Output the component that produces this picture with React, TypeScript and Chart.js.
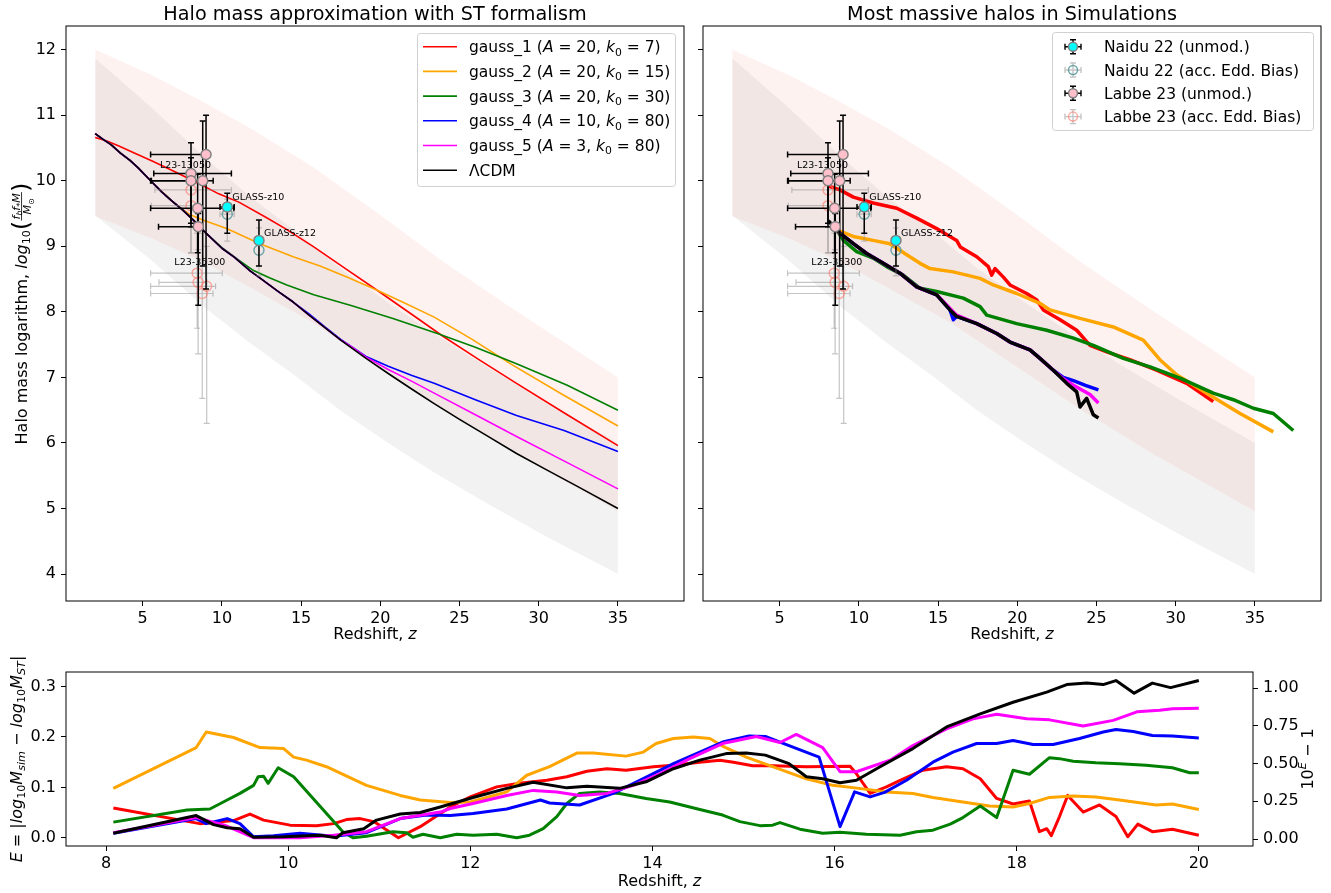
import React, { useEffect, useRef } from "react";
import { Chart, registerables } from "chart.js";
Chart.register(...registerables);

const FONT = "'DejaVu Sans', 'Liberation Sans', sans-serif";

/* ---------------- axes ---------------- */
const topXTicks = [5, 10, 15, 20, 25, 30, 35];
const topYTicks = [4, 5, 6, 7, 8, 9, 10, 11, 12];
const botXTicks = [8, 10, 12, 14, 16, 18, 20];
const botYTicks = [0, 0.1, 0.2, 0.3];
const botY2Ticks = [0, 0.25, 0.5, 0.75, 1.0];

/* ---------------- shaded bands (top panels) ---------------- */
const pinkBandZ = [2, 5.6, 8.6, 11.8, 15.8, 19.8, 24.0, 28.6, 35];
const pinkBandUpper = [12.0, 11.61, 11.23, 10.8, 10.2, 9.51, 8.76, 8.01, 7.0];
const pinkBandLower = [9.46, 9.12, 8.79, 8.37, 7.83, 7.19, 6.51, 5.83, 4.96];
const grayBandZ = [2, 5.5, 9.0, 11.8, 14.5, 17.5, 20.5, 23.4, 26.8, 30.5, 35];
const grayBandUpper = [11.87, 11.13, 10.34, 9.75, 9.26, 8.66, 8.14, 7.67, 7.15, 6.62, 6.0];
const grayBandLower = [9.47, 8.8, 8.05, 7.52, 7.05, 6.49, 6.0, 5.55, 5.07, 4.57, 4.0];

/* ---------------- ST formalism (top-left) ---------------- */
const lcdmZ = [2.0, 2.5, 3.0, 3.6, 4.2, 4.7, 5.5, 6.2, 6.8, 7.5, 8.2, 9.0, 10.0, 10.8, 11.8, 12.5, 13.5, 14.5, 15.5, 16.5, 17.5, 19.1, 20.5, 22.0, 23.4, 25.0, 26.8, 28.6, 30.5, 32.5, 35.0];
const lcdmM = [10.72, 10.63, 10.55, 10.42, 10.31, 10.2, 10.0, 9.83, 9.7, 9.56, 9.4, 9.2, 8.97, 8.83, 8.62, 8.5, 8.32, 8.15, 7.95, 7.76, 7.57, 7.29, 7.06, 6.82, 6.6, 6.36, 6.1, 5.84, 5.59, 5.33, 5.0];
const gauss1Z = [2.0, 2.7, 3.5, 4.4, 5.6, 7.1, 8.6, 9.8, 11.1, 12.8, 14.0, 15.8, 17.8, 19.8, 22.0, 24.0, 26.3, 28.6, 31.8, 35.0];
const gauss1M = [10.66, 10.61, 10.53, 10.43, 10.3, 10.13, 9.95, 9.8, 9.67, 9.44, 9.27, 8.99, 8.66, 8.33, 7.96, 7.62, 7.26, 6.91, 6.43, 5.96];
const gauss2Z = [2.0, 2.5, 3.0, 3.6, 4.2, 4.7, 5.5, 6.2, 7.0, 8.0, 8.8, 10.3, 12.4, 14.5, 16.2, 18.0, 19.8, 21.5, 23.4, 25.8, 28.2, 31.5, 35.0];
const gauss2M = [10.72, 10.63, 10.55, 10.42, 10.31, 10.2, 10.0, 9.84, 9.66, 9.48, 9.4, 9.27, 9.04, 8.84, 8.7, 8.52, 8.33, 8.14, 7.92, 7.58, 7.21, 6.74, 6.26];
const gauss3Z = [2.0, 2.5, 3.0, 3.6, 4.2, 4.7, 5.5, 6.2, 6.8, 7.5, 8.2, 9.0, 10.0, 11.0, 12.0, 13.0, 14.1, 15.8, 18.1, 20.8, 23.6, 26.0, 28.6, 31.8, 35.0];
const gauss3M = [10.72, 10.63, 10.55, 10.42, 10.31, 10.2, 10.0, 9.83, 9.7, 9.56, 9.4, 9.2, 8.98, 8.8, 8.63, 8.52, 8.41, 8.26, 8.1, 7.9, 7.67, 7.46, 7.21, 6.88, 6.5];
const gauss4Z = [2.0, 2.5, 3.0, 3.6, 4.2, 4.7, 5.5, 6.2, 6.8, 7.5, 8.2, 9.0, 10.0, 10.8, 11.8, 12.5, 13.5, 14.5, 15.5, 16.5, 17.5, 18.3, 19.1, 20.5, 22.0, 23.4, 26.0, 28.6, 31.6, 35.0];
const gauss4M = [10.72, 10.63, 10.55, 10.42, 10.31, 10.2, 10.0, 9.83, 9.7, 9.56, 9.4, 9.2, 8.97, 8.83, 8.62, 8.5, 8.32, 8.15, 7.97, 7.77, 7.58, 7.45, 7.32, 7.17, 7.03, 6.91, 6.66, 6.42, 6.19, 5.87];
const gauss5Z = [2.0, 2.5, 3.0, 3.6, 4.2, 4.7, 5.5, 6.2, 6.8, 7.5, 8.2, 9.0, 10.0, 10.8, 11.8, 12.5, 13.5, 14.5, 15.5, 16.5, 17.5, 18.1, 19.1, 20.5, 22.0, 23.4, 26.0, 28.6, 31.8, 35.0];
const gauss5M = [10.72, 10.63, 10.55, 10.42, 10.31, 10.2, 10.0, 9.83, 9.7, 9.56, 9.4, 9.2, 8.97, 8.83, 8.62, 8.5, 8.32, 8.15, 7.95, 7.76, 7.57, 7.48, 7.31, 7.12, 6.94, 6.76, 6.43, 6.1, 5.7, 5.3];

const legendNums = ["1", "2", "3", "4", "5"];
const legendA = ["20", "20", "20", "10", "3"];
const legendK = ["7", "15", "30", "80", "80"];

/* ---------------- simulations (top-right) ---------------- */
const simRedZ = [8.07, 8.8, 9.65, 10.9, 12.39, 13.65, 14.91, 16.17, 16.4, 17.44, 18.17, 18.38, 18.59, 19.12, 19.54, 20.59, 21.23, 21.64, 22.7, 23.75, 24.59, 25.64, 27.1, 28.79, 30.69, 32.37];
const simRedM = [9.92, 9.86, 9.75, 9.66, 9.58, 9.43, 9.27, 9.09, 8.99, 8.84, 8.69, 8.56, 8.66, 8.53, 8.41, 8.28, 8.18, 8.03, 7.88, 7.72, 7.49, 7.39, 7.27, 7.11, 6.91, 6.63];
const simOrangeZ = [8.6, 9.65, 10.9, 11.96, 13.02, 13.86, 14.49, 15.96, 17.65, 18.49, 19.96, 21.43, 22.06, 23.96, 26.06, 27.95, 29.0, 30.06, 31.96, 34.06, 36.16];
const simOrangeM = [9.25, 9.15, 9.09, 9.04, 8.87, 8.74, 8.66, 8.61, 8.51, 8.41, 8.28, 8.13, 8.03, 7.9, 7.77, 7.57, 7.27, 7.04, 6.76, 6.45, 6.17];
const simGreenZ = [8.6, 9.02, 9.86, 10.9, 11.75, 12.8, 13.86, 14.91, 16.59, 17.65, 18.07, 19.96, 21.86, 23.54, 24.8, 26.69, 28.38, 30.27, 32.37, 33.64, 34.9, 36.16, 37.42];
const simGreenM = [9.25, 9.09, 8.92, 8.82, 8.69, 8.56, 8.36, 8.31, 8.21, 8.08, 7.95, 7.82, 7.72, 7.6, 7.49, 7.29, 7.16, 6.99, 6.76, 6.66, 6.53, 6.45, 6.19];
const simBlackZ = [8.07, 8.8, 9.65, 10.49, 11.54, 12.59, 13.65, 14.91, 15.75, 16.17, 17.44, 18.7, 19.54, 20.8, 21.43, 22.27, 23.12, 23.75, 23.96, 24.38, 24.8, 25.12];
const simBlackM = [9.39, 9.2, 9.04, 8.89, 8.74, 8.59, 8.38, 8.26, 8.03, 7.93, 7.82, 7.67, 7.54, 7.42, 7.29, 7.11, 6.91, 6.78, 6.55, 6.68, 6.43, 6.38];
const simBlueZ = [8.3, 8.8, 9.65, 10.49, 11.54, 12.59, 13.65, 14.91, 15.75, 15.96, 16.17, 17.44, 18.7, 19.54, 20.8, 21.43, 22.27, 22.9, 23.54, 24.3, 25.12];
const simBlueM = [9.33, 9.2, 9.04, 8.89, 8.74, 8.59, 8.38, 8.26, 8.03, 7.88, 7.93, 7.82, 7.67, 7.54, 7.42, 7.29, 7.11, 7.0, 6.95, 6.88, 6.81];
const simMagentaZ = [8.3, 8.8, 9.65, 10.49, 11.54, 12.59, 13.65, 14.91, 15.75, 16.17, 17.44, 18.7, 19.54, 20.8, 21.43, 22.27, 22.9, 23.54, 24.59, 25.12];
const simMagentaM = [9.33, 9.2, 9.04, 8.89, 8.74, 8.59, 8.38, 8.26, 8.05, 7.95, 7.82, 7.67, 7.54, 7.42, 7.29, 7.11, 6.98, 6.88, 6.74, 6.61];

/* ---------------- observations ---------------- */
const naiduZ = [10.34, 12.34];
const naiduM = [9.6, 9.09];
const naiduZLo = [9.88, 12.34];
const naiduZHi = [10.78, 12.34];
const naiduMLo = [9.2, 8.7];
const naiduMHi = [9.81, 9.4];
const naiduAccM = [9.49, 8.94];
const naiduAccMLo = [9.08, 8.55];
const naiduAccMHi = [9.72, 9.28];

const labbeZ = [9.0, 8.05, 8.05, 8.79, 8.47, 8.51];
const labbeM = [10.4, 10.11, 10.0, 10.0, 9.58, 9.3];
const labbeZLo = [5.5, 5.7, 5.55, 5.5, 5.5, 6.0];
const labbeZHi = [9.2, 10.6, 8.3, 9.45, 10.75, 8.6];
const labbeMLo = [8.35, 9.35, 9.3, 8.7, 8.9, 8.1];
const labbeMHi = [11.0, 10.58, 10.35, 10.91, 10.1, 9.5];

const labbeAccZ = [8.05, 8.05, 8.44, 8.5, 9.04, 8.76];
const labbeAccM = [9.86, 9.62, 8.59, 8.45, 8.39, 8.28];
const labbeAccZLo = [5.77, 5.55, 5.5, 6.03, 5.5, 5.5];
const labbeAccZHi = [10.6, 8.3, 10.03, 9.04, 9.6, 9.44];
const labbeAccMLo = [8.9, 8.9, 7.75, 7.36, 6.3, 6.68];
const labbeAccMHi = [10.35, 10.1, 9.2, 8.95, 9.0, 9.2];

const annText = ["L23-13050", "GLASS-z10", "GLASS-z12", "L23-35300"];
const annZ = [6.09, 10.66, 12.66, 7.0];
const annM = [10.23, 9.74, 9.2, 8.75];

/* ---------------- bottom panel: E(z) ---------------- */
const botRedZ = [8.08, 9.03, 9.4, 9.58, 9.73, 10.02, 10.31, 10.5, 10.64, 10.79, 10.94, 11.21, 11.45, 11.78, 12.0, 12.29, 12.54, 12.84, 13.06, 13.28, 13.5, 13.71, 14.01, 14.23, 14.52, 14.74, 14.89, 15.1, 15.32, 15.69, 16.17, 16.24, 16.39, 16.57, 16.72, 16.97, 17.23, 17.41, 17.6, 17.78, 17.96, 18.14, 18.25, 18.33, 18.38, 18.47, 18.56, 18.73, 18.91, 19.09, 19.22, 19.33, 19.49, 19.71, 20.0];
const botRedE = [0.059, 0.028, 0.034, 0.047, 0.035, 0.025, 0.024, 0.028, 0.036, 0.038, 0.032, 0.0, 0.022, 0.061, 0.081, 0.101, 0.108, 0.114, 0.121, 0.132, 0.137, 0.134, 0.141, 0.144, 0.15, 0.154, 0.15, 0.143, 0.143, 0.141, 0.142, 0.127, 0.088, 0.101, 0.114, 0.134, 0.141, 0.137, 0.117, 0.078, 0.067, 0.073, 0.012, 0.018, 0.004, 0.042, 0.084, 0.051, 0.065, 0.042, 0.002, 0.027, 0.012, 0.017, 0.005];
const botOrangeZ = [8.08, 8.99, 9.1, 9.4, 9.69, 9.95, 10.06, 10.2, 10.42, 10.86, 11.23, 11.45, 11.78, 12.0, 12.4, 12.62, 12.87, 13.17, 13.35, 13.71, 13.9, 14.04, 14.23, 14.45, 14.63, 14.77, 15.03, 15.32, 15.69, 15.98, 16.27, 16.57, 16.86, 17.08, 17.41, 17.7, 17.96, 18.14, 18.36, 18.62, 18.87, 19.13, 19.53, 19.71, 20.0];
const botOrangeE = [0.098, 0.179, 0.21, 0.199, 0.179, 0.177, 0.16, 0.154, 0.141, 0.104, 0.084, 0.075, 0.07, 0.071, 0.091, 0.124, 0.141, 0.168, 0.168, 0.162, 0.17, 0.187, 0.197, 0.2, 0.197, 0.182, 0.16, 0.141, 0.117, 0.104, 0.098, 0.091, 0.088, 0.08, 0.071, 0.063, 0.061, 0.068, 0.08, 0.083, 0.081, 0.075, 0.065, 0.067, 0.056];
const botGreenZ = [8.08, 8.89, 9.14, 9.33, 9.47, 9.62, 9.67, 9.73, 9.78, 9.89, 10.06, 10.6, 10.71, 10.86, 11.15, 11.3, 11.37, 11.48, 11.67, 11.85, 12.03, 12.29, 12.51, 12.65, 12.8, 12.95, 13.06, 13.2, 13.42, 13.64, 13.93, 14.19, 14.52, 14.77, 14.96, 15.18, 15.32, 15.4, 15.62, 15.87, 16.06, 16.35, 16.72, 16.9, 17.08, 17.27, 17.41, 17.6, 17.78, 17.96, 18.14, 18.36, 18.47, 18.62, 18.87, 19.13, 19.42, 19.71, 19.9, 20.0];
const botGreenE = [0.031, 0.055, 0.057, 0.075, 0.088, 0.104, 0.121, 0.122, 0.108, 0.139, 0.121, 0.012, 0.0, 0.003, 0.012, 0.01, 0.001, 0.007, 0.0, 0.007, 0.005, 0.007, 0.0, 0.005, 0.018, 0.042, 0.068, 0.088, 0.091, 0.088, 0.078, 0.071, 0.056, 0.045, 0.032, 0.024, 0.025, 0.03, 0.017, 0.009, 0.011, 0.007, 0.005, 0.012, 0.015, 0.027, 0.04, 0.063, 0.04, 0.134, 0.126, 0.159, 0.157, 0.152, 0.149, 0.147, 0.144, 0.139, 0.129, 0.129];
const botBlueZ = [8.08, 8.99, 9.1, 9.33, 9.47, 9.62, 9.84, 10.13, 10.5, 10.86, 11.23, 11.52, 11.78, 12.03, 12.4, 12.77, 12.87, 13.2, 13.57, 13.86, 14.23, 14.52, 14.77, 15.06, 15.24, 15.5, 15.83, 16.06, 16.22, 16.39, 16.55, 16.79, 17.08, 17.3, 17.56, 17.78, 17.96, 18.18, 18.4, 18.69, 18.95, 19.09, 19.28, 19.49, 19.71, 20.0];
const botBlueE = [0.009, 0.038, 0.028, 0.038, 0.028, 0.002, 0.004, 0.009, 0.003, 0.01, 0.038, 0.045, 0.044, 0.048, 0.057, 0.075, 0.069, 0.065, 0.088, 0.114, 0.147, 0.17, 0.19, 0.202, 0.201, 0.183, 0.16, 0.022, 0.091, 0.081, 0.09, 0.114, 0.15, 0.17, 0.187, 0.187, 0.193, 0.185, 0.185, 0.197, 0.21, 0.215, 0.211, 0.203, 0.202, 0.198];
const botMagentaZ = [8.08, 8.99, 9.3, 9.62, 10.13, 10.5, 10.86, 11.23, 11.67, 11.78, 12.03, 12.4, 12.69, 12.95, 13.2, 13.5, 13.79, 14.08, 14.41, 14.77, 15.14, 15.4, 15.58, 15.87, 16.06, 16.24, 16.61, 16.86, 17.23, 17.52, 17.78, 18.11, 18.36, 18.73, 19.06, 19.32, 19.57, 19.71, 20.0];
const botMagentaE = [0.01, 0.04, 0.025, 0.0, 0.0, 0.005, 0.012, 0.038, 0.051, 0.058, 0.068, 0.084, 0.094, 0.091, 0.084, 0.088, 0.104, 0.127, 0.157, 0.187, 0.201, 0.189, 0.205, 0.179, 0.131, 0.131, 0.154, 0.183, 0.216, 0.236, 0.245, 0.236, 0.234, 0.222, 0.233, 0.25, 0.253, 0.256, 0.257];
const botBlackZ = [8.08, 8.99, 9.18, 9.33, 9.47, 9.62, 9.95, 10.35, 10.53, 10.6, 10.83, 10.97, 11.23, 11.45, 11.67, 12.03, 12.4, 12.69, 13.06, 13.28, 13.64, 13.93, 14.23, 14.52, 14.81, 15.03, 15.24, 15.5, 15.69, 15.87, 16.06, 16.24, 16.5, 16.86, 17.23, 17.6, 17.96, 18.33, 18.55, 18.77, 18.95, 19.09, 19.29, 19.49, 19.69, 20.0];
const botBlackE = [0.009, 0.044, 0.026, 0.02, 0.018, 0.001, 0.002, 0.005, 0.0, 0.01, 0.018, 0.035, 0.047, 0.05, 0.061, 0.08, 0.098, 0.11, 0.099, 0.102, 0.098, 0.111, 0.137, 0.154, 0.167, 0.168, 0.164, 0.147, 0.121, 0.117, 0.109, 0.114, 0.141, 0.177, 0.22, 0.246, 0.269, 0.289, 0.304, 0.307, 0.304, 0.312, 0.287, 0.307, 0.298, 0.312];

/* ---------------- styles ---------------- */
const RED = "#ff0000", ORANGE = "#ffa500", GREEN = "#008000", BLUE = "#0000ff", MAGENTA = "#ff00ff", BLACK = "#000000";
const legendColors = [RED, ORANGE, GREEN, BLUE, MAGENTA, BLACK];
const CYAN_FILL = "#00ffff", PINK_FILL = "#ffc0cb", EDGE = "#808080";
const TEAL_EDGE = "rgba(95,158,160,0.9)", SALMON_EDGE = "rgba(250,128,114,0.65)";
const BAR_DARK = "#000000", BAR_LIGHT = "rgba(140,140,140,0.5)";

const pts = (xs: number[], ys: number[]) => xs.map((x, i) => ({ x, y: ys[i] }));

/* ---------------- rich text ---------------- */
type Seg = { t?: string; it?: boolean; sub?: boolean; sup?: boolean; scale?: number; frac?: { num: Seg[]; den: Seg[] } };

function segFont(s: Seg, size: number) {
  const sz = size * (s.sub || s.sup ? 0.7 : 1) * (s.scale || 1);
  return `${s.it ? "italic " : ""}${sz}px ${FONT}`;
}
function measureSegs(ctx: CanvasRenderingContext2D, segs: Seg[], size: number): number {
  let w = 0;
  for (const s of segs) {
    if (s.frac) {
      const fs = size * 0.7;
      w += Math.max(measureSegs(ctx, s.frac.num, fs), measureSegs(ctx, s.frac.den, fs)) + 3;
    } else {
      ctx.font = segFont(s, size);
      w += ctx.measureText(s.t || "").width;
    }
  }
  return w;
}
function drawSegs(ctx: CanvasRenderingContext2D, segs: Seg[], x: number, y: number, size: number) {
  let cx = x;
  for (const s of segs) {
    if (s.frac) {
      const fs = size * 0.7;
      const wn = measureSegs(ctx, s.frac.num, fs);
      const wd = measureSegs(ctx, s.frac.den, fs);
      const w = Math.max(wn, wd) + 3;
      const barY = y - size * 0.32;
      drawSegs(ctx, s.frac.num, cx + (w - wn) / 2, barY - 2, fs);
      drawSegs(ctx, s.frac.den, cx + (w - wd) / 2, barY + fs * 0.78 + 1, fs);
      ctx.fillRect(cx + 0.5, barY - 0.4, w - 1, 0.8);
      cx += w;
    } else {
      ctx.font = segFont(s, size);
      let dy = 0;
      if (s.sub) dy = size * 0.22;
      if (s.sup) dy = -size * 0.42;
      if (s.scale) dy += size * (s.scale - 1) * 0.3;
      ctx.fillText(s.t || "", cx, y + dy);
      cx += ctx.measureText(s.t || "").width;
    }
  }
}
function drawRich(ctx: CanvasRenderingContext2D, segs: Seg[], x: number, y: number, size: number, align: string, rot = 0) {
  ctx.save();
  ctx.fillStyle = "#000";
  ctx.textAlign = "left";
  ctx.textBaseline = "alphabetic";
  ctx.translate(x, y);
  if (rot) ctx.rotate(rot);
  const w = measureSegs(ctx, segs, size);
  const sx = align === "center" ? -w / 2 : align === "right" ? -w : 0;
  drawSegs(ctx, segs, sx, size * 0.36, size);
  ctx.restore();
}

/* ---------------- plugins ---------------- */
const errorBarPlugin = {
  id: "errbars",
  beforeDatasetDraw(chart: any, args: any) {
    const ds = chart.data.datasets[args.index];
    const eb = ds && ds.errorBars;
    if (!eb) return;
    const xs = chart.scales.x, ys = chart.scales.y;
    const ctx = chart.ctx as CanvasRenderingContext2D;
    const a = chart.chartArea;
    ctx.save();
    ctx.beginPath();
    ctx.rect(a.left, a.top, a.right - a.left, a.bottom - a.top);
    ctx.clip();
    ctx.strokeStyle = eb.color;
    ctx.lineWidth = eb.width;
    const cap = 3;
    ds.data.forEach((p: any, i: number) => {
      const px = xs.getPixelForValue(p.x), py = ys.getPixelForValue(p.y);
      const x1 = xs.getPixelForValue(eb.xLo[i]), x2 = xs.getPixelForValue(eb.xHi[i]);
      const y1 = ys.getPixelForValue(eb.yLo[i]), y2 = ys.getPixelForValue(eb.yHi[i]);
      ctx.beginPath();
      if (Math.abs(x2 - x1) > 0.5) {
        ctx.moveTo(x1, py); ctx.lineTo(x2, py);
        ctx.moveTo(x1, py - cap); ctx.lineTo(x1, py + cap);
        ctx.moveTo(x2, py - cap); ctx.lineTo(x2, py + cap);
      }
      ctx.moveTo(px, y1); ctx.lineTo(px, y2);
      ctx.moveTo(px - cap, y1); ctx.lineTo(px + cap, y1);
      ctx.moveTo(px - cap, y2); ctx.lineTo(px + cap, y2);
      ctx.stroke();
    });
    ctx.restore();
  },
};

function drawFrame(chart: any) {
  const ctx = chart.ctx as CanvasRenderingContext2D;
  const a = chart.chartArea;
  ctx.save();
  ctx.strokeStyle = "#000";
  ctx.lineWidth = 1;
  ctx.strokeRect(a.left, a.top, a.right - a.left, a.bottom - a.top);
  ctx.restore();
}

function drawAnnotations(chart: any) {
  const ctx = chart.ctx as CanvasRenderingContext2D;
  const xs = chart.scales.x, ys = chart.scales.y;
  ctx.save();
  ctx.fillStyle = "#000";
  ctx.font = `9.5px ${FONT}`;
  ctx.textAlign = "left";
  ctx.textBaseline = "middle";
  annText.forEach((t, i) => ctx.fillText(t, xs.getPixelForValue(annZ[i]), ys.getPixelForValue(annM[i])));
  ctx.restore();
}

function legendBox(ctx: CanvasRenderingContext2D, x: number, y: number, w: number, h: number) {
  ctx.save();
  ctx.beginPath();
  (ctx as any).roundRect(x, y, w, h, 3);
  ctx.fillStyle = "rgba(255,255,255,0.8)";
  ctx.fill();
  ctx.strokeStyle = "#d0d0d0";
  ctx.lineWidth = 1;
  ctx.stroke();
  ctx.restore();
}

const xLabelSegs: Seg[] = [{ t: "Redshift, " }, { t: "z", it: true }];
const yLabelTopSegs: Seg[] = [
  { t: "Halo mass logarithm, " },
  { t: "log", it: true },
  { t: "10", sub: true },
  { t: "(", scale: 1.45 },
  { frac: { num: [{ t: "f", it: true }, { t: "b", it: true, sub: true }, { t: "f", it: true }, { t: "*", sub: true }, { t: "M", it: true }], den: [{ t: "M", it: true }, { t: "⊙", sub: true }] } },
  { t: ")", scale: 1.45 },
];
const yLabelBotSegs: Seg[] = [
  { t: "E", it: true }, { t: " = |" }, { t: "log", it: true }, { t: "10", sub: true }, { t: "M", it: true }, { t: "sim", it: true, sub: true },
  { t: " − " }, { t: "log", it: true }, { t: "10", sub: true }, { t: "M", it: true }, { t: "ST", it: true, sub: true }, { t: "|" },
];
const y2LabelSegs: Seg[] = [{ t: "10" }, { t: "E", it: true, sup: true }, { t: " − 1" }];

const gaussSegs = (i: number): Seg[] => [
  { t: `gauss_${legendNums[i]} (` }, { t: "A", it: true }, { t: ` = ${legendA[i]}, ` }, { t: "k", it: true }, { t: "0", sub: true }, { t: ` = ${legendK[i]})` },
];

const obsLegend = [
  { label: "Naidu 22 (unmod.)", fill: CYAN_FILL, edge: EDGE, bar: BAR_DARK },
  { label: "Naidu 22 (acc. Edd. Bias)", fill: "rgba(0,0,0,0)", edge: TEAL_EDGE, bar: BAR_LIGHT },
  { label: "Labbe 23 (unmod.)", fill: PINK_FILL, edge: EDGE, bar: BAR_DARK },
  { label: "Labbe 23 (acc. Edd. Bias)", fill: "rgba(0,0,0,0)", edge: SALMON_EDGE, bar: BAR_LIGHT },
];

function drawTopLeft(chart: any) {
  const ctx = chart.ctx as CanvasRenderingContext2D;
  drawAnnotations(chart);
  legendBox(ctx, 417.5, 33.5, 258, 153);
  for (let i = 0; i < 6; i++) {
    const y = 46.7 + i * 24.7;
    ctx.save();
    ctx.strokeStyle = legendColors[i];
    ctx.lineWidth = 1.6;
    ctx.beginPath(); ctx.moveTo(423, y); ctx.lineTo(457, y); ctx.stroke();
    ctx.restore();
    drawRich(ctx, i < 5 ? gaussSegs(i) : [{ t: "ΛCDM" }], 469, y, 15.5, "left");
  }
  drawRich(ctx, [{ t: "Halo mass approximation with ST formalism" }], 375, 13, 19.2, "center");
  drawRich(ctx, xLabelSegs, 375, 633, 16, "center");
  drawRich(ctx, yLabelTopSegs, 21, 313.5, 16, "center", -Math.PI / 2);
  drawFrame(chart);
}

function drawTopRight(chart: any) {
  const ctx = chart.ctx as CanvasRenderingContext2D;
  drawAnnotations(chart);
  legendBox(ctx, 1052.5, 32.5, 261, 98);
  obsLegend.forEach((e, i) => {
    const y = 46.7 + i * 23.3, x = 1073;
    ctx.save();
    ctx.strokeStyle = e.bar;
    ctx.lineWidth = 1.4;
    ctx.beginPath();
    ctx.moveTo(x - 8, y); ctx.lineTo(x + 8, y);
    ctx.moveTo(x - 8, y - 3); ctx.lineTo(x - 8, y + 3);
    ctx.moveTo(x + 8, y - 3); ctx.lineTo(x + 8, y + 3);
    ctx.moveTo(x, y - 7); ctx.lineTo(x, y + 7);
    ctx.moveTo(x - 3, y - 7); ctx.lineTo(x + 3, y - 7);
    ctx.moveTo(x - 3, y + 7); ctx.lineTo(x + 3, y + 7);
    ctx.stroke();
    ctx.beginPath();
    ctx.arc(x, y, 4.5, 0, Math.PI * 2);
    ctx.fillStyle = e.fill; ctx.fill();
    ctx.strokeStyle = e.edge; ctx.lineWidth = 1.5; ctx.stroke();
    ctx.restore();
    drawRich(ctx, [{ t: e.label }], 1104, y, 15.5, "left");
  });
  drawRich(ctx, [{ t: "Most massive halos in Simulations" }], 1012, 13, 19.2, "center");
  drawRich(ctx, xLabelSegs, 1012, 633, 16, "center");
  drawFrame(chart);
}

function drawBottom(chart: any) {
  const ctx = chart.ctx as CanvasRenderingContext2D;
  drawRich(ctx, xLabelSegs, 659.5, 880, 16, "center");
  drawRich(ctx, yLabelBotSegs, 16, 759, 16, "center", -Math.PI / 2);
  drawRich(ctx, y2LabelSegs, 1307, 759, 16, "center", -Math.PI / 2);
  drawFrame(chart);
}

/* ---------------- scales ---------------- */
function makeAxis(ticks: number[], labels: string[], min: number, max: number, horizontal: boolean, size: number, showLabels = true, position?: string) {
  const ax: any = {
    type: "linear",
    min,
    max,
    afterBuildTicks: (s: any) => { s.ticks = ticks.map((v) => ({ value: v })); },
    afterFit: (s: any) => { if (horizontal) s.height = size; else s.width = size; },
    ticks: {
      display: showLabels,
      color: "#000",
      font: { family: FONT, size: 16 },
      padding: horizontal ? 3 : 5,
      autoSkip: false,
      maxRotation: 0,
      minRotation: 0,
      callback: (_v: any, i: number) => labels[i],
    },
    grid: { display: true, drawOnChartArea: false, drawTicks: true, tickLength: 5, tickColor: "#000", tickWidth: 1 },
    border: { display: false },
  };
  if (position) ax.position = position;
  return ax;
}

const topXLabels = topXTicks.map(String);
const topYLabels = topYTicks.map(String);
const botXLabels = botXTicks.map(String);
const botYLabels = botYTicks.map((v) => v.toFixed(1));
const botY2Labels = botY2Ticks.map((v) => v.toFixed(2));

/* ---------------- datasets ---------------- */
const lineDs = (xs: number[], ys: number[], color: string, width: number) => ({
  data: pts(xs, ys), showLine: true, borderColor: color, borderWidth: width, pointRadius: 0, pointHoverRadius: 0,
  fill: false, tension: 0, borderJoinStyle: "round", borderCapStyle: "butt",
});

const bandDs = (xs: number[], up: number[], lo: number[], color: string) => [
  { data: pts(xs, up), showLine: true, borderWidth: 0, borderColor: "rgba(0,0,0,0)", pointRadius: 0, fill: "+1", backgroundColor: color, tension: 0 },
  { data: pts(xs, lo), showLine: true, borderWidth: 0, borderColor: "rgba(0,0,0,0)", pointRadius: 0, fill: false, tension: 0 },
];

function obsDatasets() {
  const pt = (fill: string, edge: string) => ({ showLine: false, pointRadius: 5, pointHoverRadius: 5, pointBackgroundColor: fill, pointBorderColor: edge, pointBorderWidth: 1.5 });
  return [
    { ...pt(CYAN_FILL, EDGE), data: pts(naiduZ, naiduM), errorBars: { xLo: naiduZLo, xHi: naiduZHi, yLo: naiduMLo, yHi: naiduMHi, color: BAR_DARK, width: 1.5 } },
    { ...pt(PINK_FILL, EDGE), data: pts(labbeZ, labbeM), errorBars: { xLo: labbeZLo, xHi: labbeZHi, yLo: labbeMLo, yHi: labbeMHi, color: BAR_DARK, width: 1.5 } },
    { ...pt("rgba(0,0,0,0)", TEAL_EDGE), data: pts(naiduZ, naiduAccM), errorBars: { xLo: naiduZLo, xHi: naiduZHi, yLo: naiduAccMLo, yHi: naiduAccMHi, color: BAR_LIGHT, width: 1.2 } },
    { ...pt("rgba(0,0,0,0)", SALMON_EDGE), data: pts(labbeAccZ, labbeAccM), errorBars: { xLo: labbeAccZLo, xHi: labbeAccZHi, yLo: labbeAccMLo, yHi: labbeAccMHi, color: BAR_LIGHT, width: 1.2 } },
  ];
}

function bands() {
  return [
    ...bandDs(pinkBandZ, pinkBandUpper, pinkBandLower, "rgba(250,128,114,0.1)"),
    ...bandDs(grayBandZ, grayBandUpper, grayBandLower, "rgba(128,128,128,0.1)"),
  ];
}

const baseOptions = (padding: any) => ({
  animation: false,
  responsive: false,
  devicePixelRatio: 1,
  events: [],
  layout: { autoPadding: false, padding },
  plugins: { legend: { display: false }, tooltip: { enabled: false }, title: { display: false } },
});

function topLeftConfig(): any {
  return {
    type: "scatter",
    data: {
      datasets: [
        ...obsDatasets(),
        lineDs(lcdmZ, lcdmM, BLACK, 1.6),
        lineDs(gauss5Z, gauss5M, MAGENTA, 1.6),
        lineDs(gauss4Z, gauss4M, BLUE, 1.6),
        lineDs(gauss3Z, gauss3M, GREEN, 1.6),
        lineDs(gauss2Z, gauss2M, ORANGE, 1.6),
        lineDs(gauss1Z, gauss1M, RED, 1.6),
        ...bands(),
      ],
    },
    options: {
      ...baseOptions({ left: 16, right: 1331 - 684, top: 26, bottom: 893 - 601 - 40 }),
      scales: {
        x: makeAxis(topXTicks, topXLabels, 0.16, 39.17, true, 40),
        y: makeAxis(topYTicks, topYLabels, 3.59, 12.36, false, 50),
      },
    },
    plugins: [errorBarPlugin, { id: "decorTL", afterDatasetsDraw: drawTopLeft }],
  };
}

function topRightConfig(): any {
  return {
    type: "scatter",
    data: {
      datasets: [
        ...obsDatasets(),
        lineDs(simBlackZ, simBlackM, BLACK, 3.5),
        lineDs(simMagentaZ, simMagentaM, MAGENTA, 3.5),
        lineDs(simBlueZ, simBlueM, BLUE, 3.5),
        lineDs(simGreenZ, simGreenM, GREEN, 3.5),
        lineDs(simOrangeZ, simOrangeM, ORANGE, 3.5),
        lineDs(simRedZ, simRedM, RED, 3.5),
        ...bands(),
      ],
    },
    options: {
      ...baseOptions({ left: 703 - 50, right: 1331 - 1321, top: 26, bottom: 893 - 601 - 40 }),
      scales: {
        x: makeAxis(topXTicks, topXLabels, 0.16, 39.17, true, 40),
        y: makeAxis(topYTicks, topYLabels, 3.59, 12.36, false, 50, false),
      },
    },
    plugins: [errorBarPlugin, { id: "decorTR", afterDatasetsDraw: drawTopRight }],
  };
}

function bottomConfig(): any {
  return {
    type: "scatter",
    data: {
      datasets: [
        lineDs(botBlackZ, botBlackE, BLACK, 3),
        lineDs(botMagentaZ, botMagentaE, MAGENTA, 3),
        lineDs(botBlueZ, botBlueE, BLUE, 3),
        lineDs(botGreenZ, botGreenE, GREEN, 3),
        lineDs(botOrangeZ, botOrangeE, ORANGE, 3),
        lineDs(botRedZ, botRedE, RED, 3),
      ],
    },
    options: {
      ...baseOptions({ left: 16, right: 1331 - 1253 - 70, top: 672, bottom: 893 - 846 - 40 }),
      scales: {
        x: makeAxis(botXTicks, botXLabels, 7.56, 20.595, true, 40),
        y: makeAxis(botYTicks, botYLabels, -0.0164, 0.329, false, 50, true, "left"),
        y2: makeAxis(botY2Ticks, botY2Labels, -0.046, 1.106, false, 70, true, "right"),
      },
    },
    plugins: [{ id: "decorB", afterDatasetsDraw: drawBottom }],
  };
}

function ChartCanvas({ make }: { make: () => any }) {
  const ref = useRef<HTMLCanvasElement | null>(null);
  useEffect(() => {
    if (!ref.current) return;
    const chart = new Chart(ref.current, make());
    return () => chart.destroy();
  }, []);
  return <canvas ref={ref} width={1331} height={893} style={{ position: "absolute", left: 0, top: 0, width: 1331, height: 893 }} />;
}

export default function App() {
  return (
    <div style={{ position: "absolute", left: 0, top: 0, width: 1331, height: 893, background: "#fff", overflow: "hidden" }}>
      <ChartCanvas make={topLeftConfig} />
      <ChartCanvas make={topRightConfig} />
      <ChartCanvas make={bottomConfig} />
    </div>
  );
}
